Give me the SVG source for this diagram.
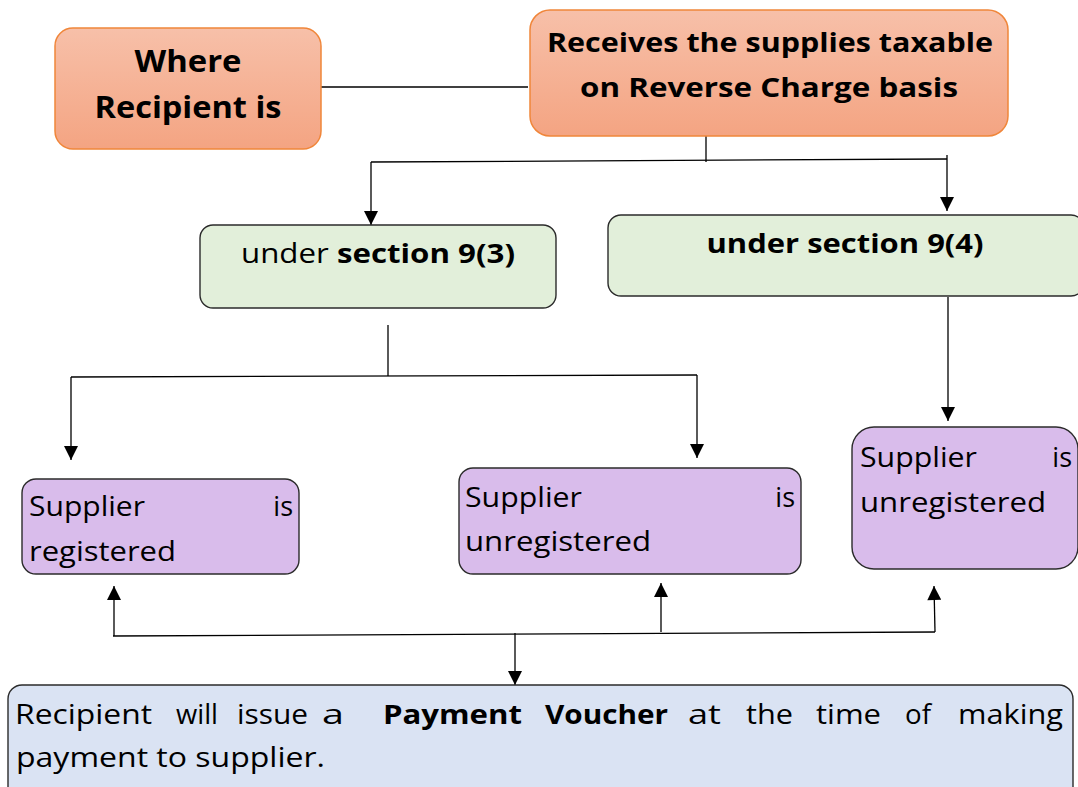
<svg xmlns="http://www.w3.org/2000/svg" width="1078" height="787" viewBox="0 0 1078 787">
<defs>
<linearGradient id="org" x1="0" y1="0" x2="0" y2="1">
<stop offset="0" stop-color="#F7C0A9"/>
<stop offset="1" stop-color="#F4A482"/>
</linearGradient>
<marker id="ah" viewBox="0 0 10 10" refX="10" refY="5" markerWidth="16" markerHeight="14" markerUnits="userSpaceOnUse" orient="auto">
<path d="M0,0 L10,5 L0,10 z" fill="#000"/>
</marker>
<style>
.org{fill:url(#org);stroke:#F0863A;stroke-width:1.5}
.grn{fill:#E2EFDA;stroke:#2b2b2b;stroke-width:1.4}
.pur{fill:#D9BCEB;stroke:#2b2b2b;stroke-width:1.4}
.blu{fill:#DAE3F3;stroke:#2b2b2b;stroke-width:1.4}
text{font-family:"Open Sans","Liberation Sans",sans-serif;fill:#000}
.b{font-weight:700}
.t{font-size:27px}
.c{text-anchor:middle}
.e{text-anchor:end}
.con line{stroke:#000;stroke-width:1.3;fill:none}
.con .a{marker-end:url(#ah)}
</style>
</defs>

<g class="con" id="connectors">
<line x1="320" y1="87" x2="528" y2="87"/>
<line x1="706" y1="136" x2="706" y2="162"/>
<line x1="371" y1="162" x2="947" y2="159"/>
<line class="a" x1="371" y1="162" x2="371" y2="225"/>
<line class="a" x1="947" y1="155" x2="947" y2="211"/>
<line x1="388" y1="325" x2="388" y2="376"/>
<line x1="71" y1="377" x2="697" y2="375"/>
<line class="a" x1="71" y1="377" x2="71" y2="460"/>
<line class="a" x1="697" y1="375" x2="697" y2="458"/>
<line class="a" x1="948" y1="297" x2="948" y2="421"/>
<line x1="113" y1="636" x2="935" y2="632"/>
<line class="a" x1="114" y1="636" x2="114" y2="586"/>
<line class="a" x1="661" y1="632" x2="661" y2="583"/>
<line class="a" x1="935" y1="632" x2="934" y2="586"/>
<line class="a" x1="515" y1="633" x2="515" y2="685"/>
</g>

<g id="node-where">
<rect class="org" x="55" y="28" width="266" height="121" rx="18"/>
<text class="b c" x="188" y="72" font-size="30" textLength="107" lengthAdjust="spacingAndGlyphs">Where</text>
<text class="b c" x="188" y="118" font-size="30" textLength="187" lengthAdjust="spacingAndGlyphs">Recipient is</text>
</g>

<g id="node-receives">
<rect class="org" x="530" y="10" width="478" height="126" rx="20"/>
<text class="b c" x="770" y="52" font-size="27" textLength="446" lengthAdjust="spacingAndGlyphs">Receives the supplies taxable</text>
<text class="b c" x="769" y="97" font-size="27" textLength="378" lengthAdjust="spacingAndGlyphs">on Reverse Charge basis</text>
</g>

<g id="node-9-3">
<rect class="grn" x="200" y="225" width="356" height="83" rx="13"/>
<text class="t c" x="378" y="263" textLength="274" lengthAdjust="spacingAndGlyphs">under <tspan class="b">section 9(3)</tspan></text>
</g>

<g id="node-9-4">
<rect class="grn" x="608" y="215" width="476" height="81" rx="13"/>
<text class="t b c" x="845" y="253" textLength="277" lengthAdjust="spacingAndGlyphs">under section 9(4)</text>
</g>

<g id="node-registered">
<rect class="pur" x="22" y="479" width="277" height="95" rx="14"/>
<text class="t" x="29" y="516" textLength="116" lengthAdjust="spacingAndGlyphs">Supplier</text>
<text class="t e" x="293" y="516">is</text>
<text class="t" x="29" y="561" textLength="147" lengthAdjust="spacingAndGlyphs">registered</text>
</g>

<g id="node-unregistered-93">
<rect class="pur" x="459" y="468" width="342" height="106" rx="14"/>
<text class="t" x="465" y="507" textLength="117" lengthAdjust="spacingAndGlyphs">Supplier</text>
<text class="t e" x="795" y="507">is</text>
<text class="t" x="465" y="551" textLength="186" lengthAdjust="spacingAndGlyphs">unregistered</text>
</g>

<g id="node-unregistered-94">
<rect class="pur" x="852" y="427" width="226" height="142" rx="22"/>
<text class="t" x="860" y="467" textLength="117" lengthAdjust="spacingAndGlyphs">Supplier</text>
<text class="t e" x="1072" y="467">is</text>
<text class="t" x="860" y="512" textLength="186" lengthAdjust="spacingAndGlyphs">unregistered</text>
</g>

<g id="node-voucher">
<rect class="blu" x="8" y="685" width="1065" height="120" rx="14"/>
<text class="t" x="15" y="724" textLength="137" lengthAdjust="spacingAndGlyphs">Recipient</text>
<text class="t" x="176" y="724" textLength="42" lengthAdjust="spacingAndGlyphs">will</text>
<text class="t" x="237" y="724" textLength="71" lengthAdjust="spacingAndGlyphs">issue</text>
<text class="t" x="322" y="724" textLength="22" lengthAdjust="spacingAndGlyphs">a</text>
<text class="t b" x="383" y="724" textLength="139" lengthAdjust="spacingAndGlyphs">Payment</text>
<text class="t b" x="545" y="724" textLength="123" lengthAdjust="spacingAndGlyphs">Voucher</text>
<text class="t" x="688" y="724" textLength="33" lengthAdjust="spacingAndGlyphs">at</text>
<text class="t" x="746" y="724" textLength="47" lengthAdjust="spacingAndGlyphs">the</text>
<text class="t" x="816" y="724" textLength="65" lengthAdjust="spacingAndGlyphs">time</text>
<text class="t" x="905" y="724" textLength="26" lengthAdjust="spacingAndGlyphs">of</text>
<text class="t" x="958" y="724" textLength="105" lengthAdjust="spacingAndGlyphs">making</text>
<text class="t" x="16" y="767" textLength="309" lengthAdjust="spacingAndGlyphs">payment to supplier.</text>
</g>
</svg>
